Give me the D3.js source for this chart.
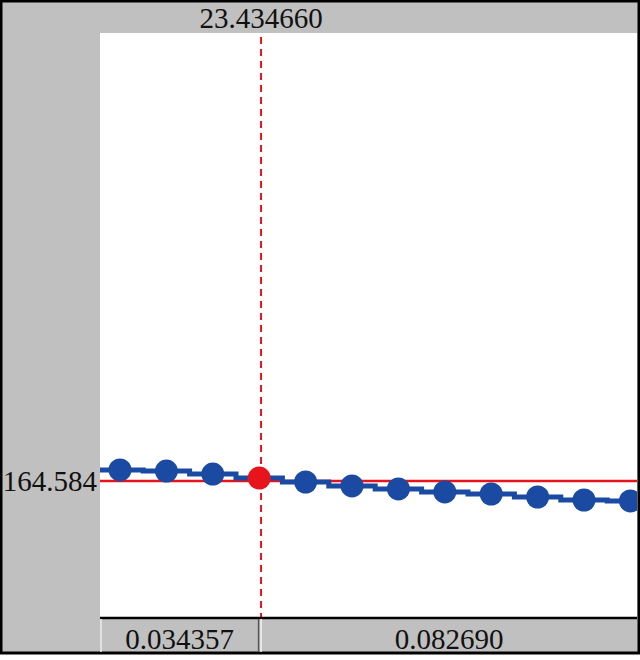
<!DOCTYPE html>
<html>
<head>
<meta charset="utf-8">
<script src="https://cdn.jsdelivr.net/npm/d3@7"></script>
<style>
  body { margin: 0; background: #fff; }
  svg { display: block; }
  text { font-family: "Liberation Serif", "Times New Roman", serif; fill: #111; }
</style>
</head>
<body>
<svg id="chart" width="640" height="660"></svg>
<script>
// sample positions (index) and values, incl. one sample just outside each edge
const sampleX = [-1, 0, 1, 2, 3, 4, 5, 6, 7, 8, 9, 10, 11, 12];
const sampleY = [164.76, 164.753, 164.737, 164.691, 164.630, 164.569, 164.508,
                 164.462, 164.416, 164.385, 164.339, 164.293, 164.278, 164.27];
const selectedIndex = 3;
const cursorX = 3.04;
const refValue = 164.584;
const cursorLabel = "23.434660";
const refLabel = "164.584";
const intervalLabels = ["0.034357", "0.082690"];

let width = 640;
let height = 654;
let padLeft = 100, padRight = 637, padTop = 33, padBottom = 617;

let svg = d3.select("#chart");

let data = sampleX.map((d, i) => ({x: d, y: sampleY[i]}));

let x = d3.scaleLinear()
    .domain([-0.431, 11.142])
    .range([padLeft, padRight]);

let y = d3.scaleLinear()
    .domain([162.5, 171.45])
    .range([padBottom, padTop]);

// frame
svg.append("rect")
    .attr("x", 1).attr("y", 1)
    .attr("width", width - 2).attr("height", height - 2)
    .attr("fill", "#c0c0c0")
    .attr("stroke", "#000")
    .attr("stroke-width", 3);

svg.append("rect")
    .attr("x", padLeft).attr("y", padTop)
    .attr("width", padRight - padLeft).attr("height", padBottom - padTop)
    .attr("fill", "#fff");

svg.append("clipPath").attr("id", "plot")
  .append("rect")
    .attr("x", padLeft).attr("y", padTop)
    .attr("width", padRight - padLeft).attr("height", padBottom - padTop);

let plot = svg.append("g").attr("clip-path", "url(#plot)");

// reference line
plot.append("line")
    .attr("x1", padLeft).attr("x2", padRight)
    .attr("y1", y(refValue)).attr("y2", y(refValue))
    .attr("stroke", "#e8141c")
    .attr("stroke-width", 2.5);

// series
plot.append("path")
    .datum(data)
    .attr("fill", "none")
    .attr("stroke", "#1b4aa3")
    .attr("stroke-width", 5)
    .attr("d", d3.line()
        .x(d => x(d.x))
        .y(d => y(d.y))
        .curve(d3.curveStep));

plot.selectAll("circle")
    .data(data)
    .join("circle")
    .attr("cx", d => x(d.x))
    .attr("cy", d => y(d.y))
    .attr("r", 11.5)
    .attr("fill", d => d.x === selectedIndex ? "#e8141c" : "#1b4aa3");

// cursor
svg.append("line")
    .attr("x1", x(cursorX)).attr("x2", x(cursorX))
    .attr("y1", padTop + 4).attr("y2", padBottom)
    .attr("stroke", "#e8141c")
    .attr("stroke-width", 2)
    .attr("stroke-dasharray", "7,5");

// bottom interval strip
svg.append("line")
    .attr("x1", padLeft).attr("x2", padRight)
    .attr("y1", padBottom + 1).attr("y2", padBottom + 1)
    .attr("stroke", "#000")
    .attr("stroke-width", 2.5);
svg.append("line")
    .attr("x1", padLeft + 1).attr("x2", padLeft + 1)
    .attr("y1", padBottom + 2).attr("y2", height - 2)
    .attr("stroke", "#eee").attr("stroke-width", 1.5);
svg.append("line")
    .attr("x1", x(cursorX) - 2.5).attr("x2", x(cursorX) - 2.5)
    .attr("y1", padBottom + 2).attr("y2", height - 2)
    .attr("stroke", "#555").attr("stroke-width", 1.5);
svg.append("line")
    .attr("x1", x(cursorX)).attr("x2", x(cursorX))
    .attr("y1", padBottom + 2).attr("y2", height - 2)
    .attr("stroke", "#f4f4ee").attr("stroke-width", 1.5);

let segs = [[padLeft, x(cursorX) - 2], [x(cursorX), padRight]];
svg.selectAll(".interval")
    .data(intervalLabels)
    .join("text")
    .attr("class", "interval")
    .attr("x", (d, i) => (segs[i][0] + segs[i][1]) / 2)
    .attr("y", 649)
    .attr("text-anchor", "middle")
    .style("font-size", "29px")
    .text(d => d);

// labels
svg.append("text")
    .attr("x", x(cursorX))
    .attr("y", 28)
    .attr("text-anchor", "middle")
    .style("font-size", "29px")
    .text(cursorLabel);

svg.append("text")
    .attr("x", padLeft - 3)
    .attr("y", y(refValue) + 10)
    .attr("text-anchor", "end")
    .style("font-size", "29px")
    .text(refLabel);
</script>
</body>
</html>
